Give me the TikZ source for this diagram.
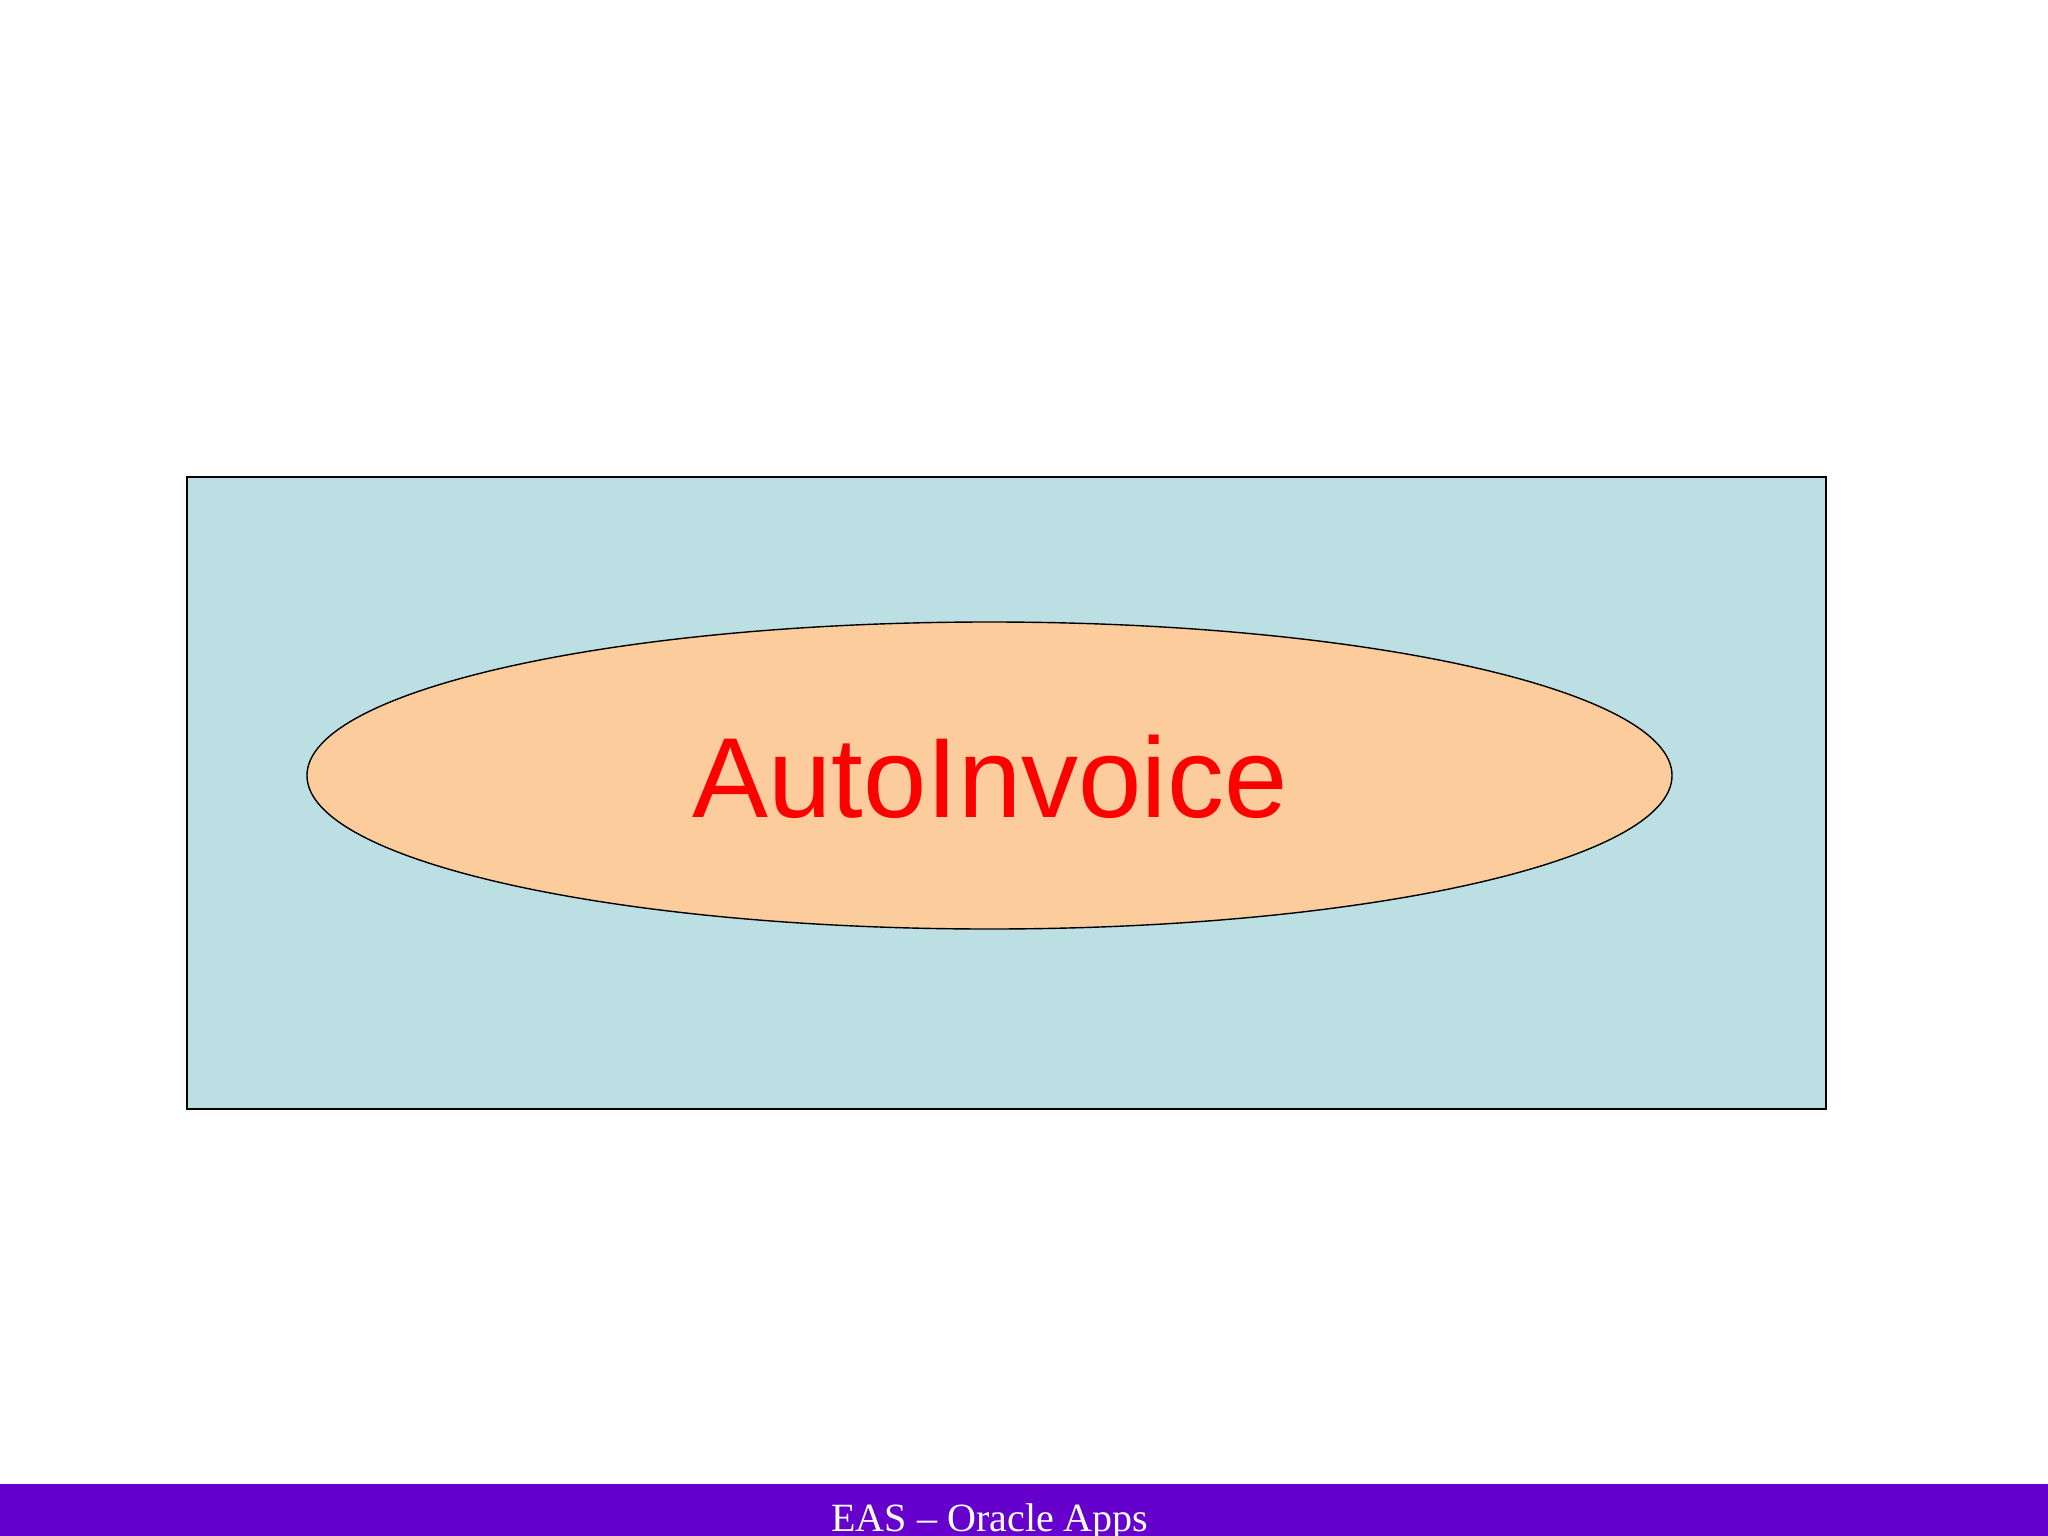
\documentclass[tikz,border=0pt]{standalone}
\usepackage{fontspec}
\setmainfont{Liberation Serif}
\newfontfamily\arialfont{Liberation Sans}
\usetikzlibrary{shapes.geometric}
\definecolor{boxblue}{RGB}{188,223,227}
\definecolor{ellorange}{RGB}{252,204,156}
\definecolor{barpurple}{RGB}{102,0,204}
\tikzset{
  outerbox/.style={draw=black, line width=0.5mm, fill=boxblue, rectangle, inner sep=0pt,
    minimum width=409.75mm, minimum height=158mm},
  innerell/.style={draw=black, line width=0.35mm, fill=ellorange, ellipse, inner sep=0pt,
    minimum width=341.25mm, minimum height=76.75mm},
  autotextstyle/.style={text=red, inner sep=0pt, anchor=base,
    font=\arialfont\fontsize{81}{90}\selectfont},
  footertext/.style={text=white, inner sep=0pt, anchor=base,
    font=\fontsize{28.5}{32}\selectfont}
}
\begin{document}
\begin{tikzpicture}[x=0.25mm,y=-0.25mm]
\useasboundingbox (0,0) rectangle (2048,1536);
\fill[white] (0,0) rectangle (2048,1536);
\node[outerbox] (box) at (1006.5,793) {};
\node[innerell] (auto) at (989.5,775.5) {};
\node[autotextstyle] (autotext) at (990,817) {AutoInvoice};
\fill[barpurple] (0,1484) rectangle (2048,1536);
\node[footertext] (foot) at (990,1531) {EAS – Oracle Apps};
\end{tikzpicture}
\end{document}
